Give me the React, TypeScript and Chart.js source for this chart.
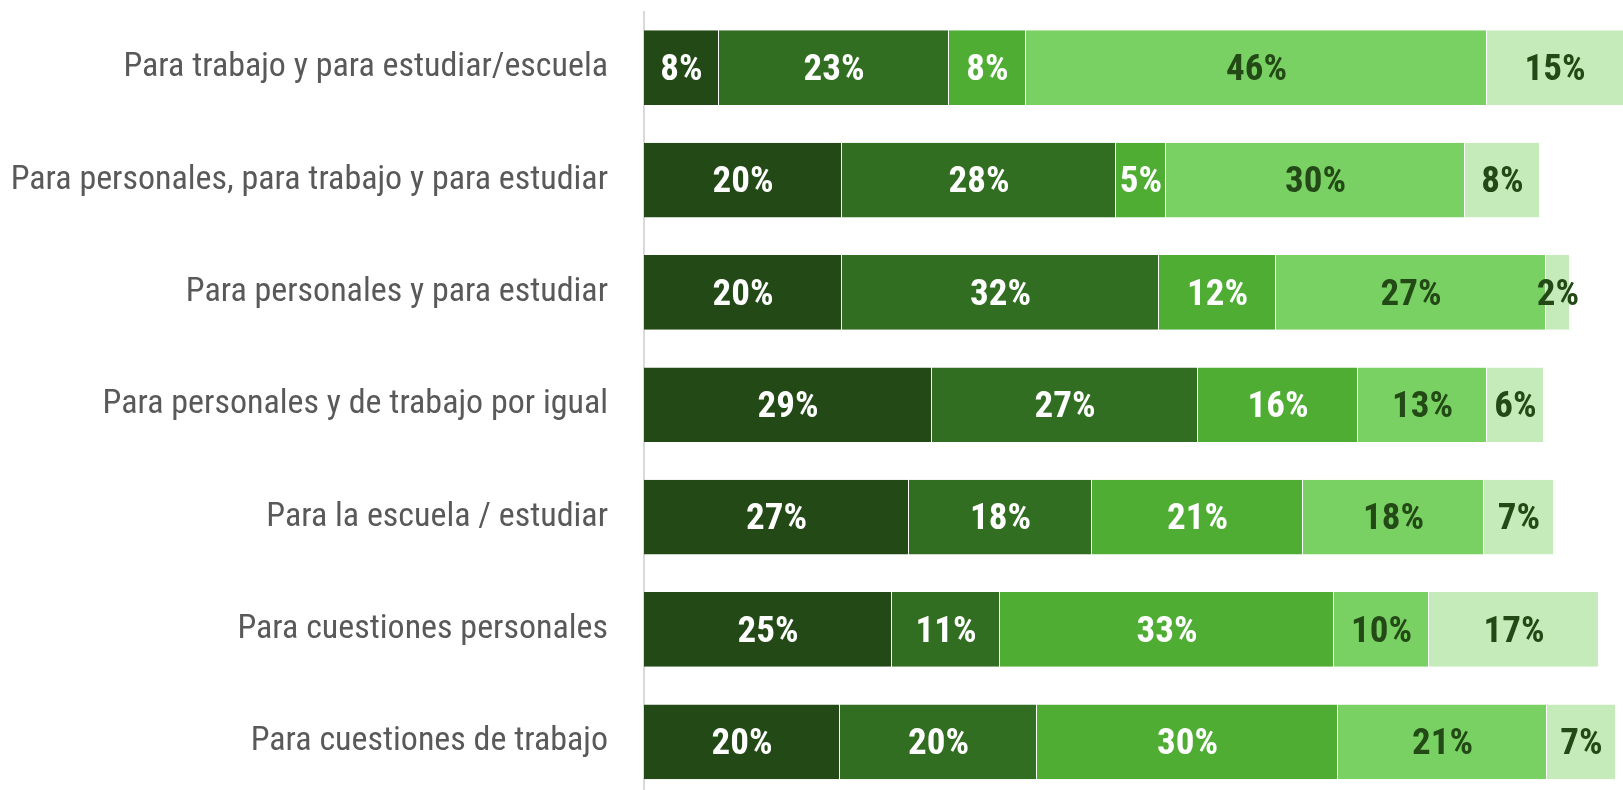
import React, { useEffect, useRef } from "react";
import { Chart, registerables } from "chart.js";

Chart.register(...registerables);

const categories = [
  "Para trabajo y para estudiar/escuela",
  "Para personales, para trabajo y para estudiar",
  "Para personales y para estudiar",
  "Para personales y de trabajo por igual",
  "Para la escuela / estudiar",
  "Para cuestiones personales",
  "Para cuestiones de trabajo",
];

// bar lengths (percent)
const series1 = [7.5, 19.8, 19.8, 28.8, 26.5, 24.8, 19.6];
const series2 = [23.0, 27.4, 31.7, 26.6, 18.3, 10.8, 19.7];
const series3 = [7.7, 5.0, 11.7, 16.0, 21.1, 33.4, 30.1];
const series4 = [46.1, 29.9, 27.0, 12.9, 18.1, 9.5, 20.9];
const series5 = [15.0, 7.5, 2.4, 5.7, 7.0, 17.0, 6.9];

// printed labels
const labels1 = ["8%", "20%", "20%", "29%", "27%", "25%", "20%"];
const labels2 = ["23%", "28%", "32%", "27%", "18%", "11%", "20%"];
const labels3 = ["8%", "5%", "12%", "16%", "21%", "33%", "30%"];
const labels4 = ["46%", "30%", "27%", "13%", "18%", "10%", "21%"];
const labels5 = ["15%", "8%", "2%", "6%", "7%", "17%", "7%"];

const colors = ["#234a16", "#326e21", "#4fad34", "#7ad163", "#c5ebba"];
const labelColors = ["#ffffff", "#ffffff", "#ffffff", "#234a16", "#234a16"];

const FONT = "'Liberation Sans Narrow', 'Roboto Condensed', 'DejaVu Sans Condensed', sans-serif";

const labelPlugin = {
  id: "segLabels",
  afterDatasetsDraw(chart: any) {
    const ctx = chart.ctx;
    const area = chart.chartArea;
    const allLabels = [labels1, labels2, labels3, labels4, labels5];
    ctx.save();
    ctx.font = `bold 37px ${FONT}`;
    ctx.textAlign = "center";
    ctx.textBaseline = "middle";
    chart.data.datasets.forEach((ds: any, di: number) => {
      const meta = chart.getDatasetMeta(di);
      meta.data.forEach((el: any, i: number) => {
        const left = Math.max(Math.min(el.base, el.x), area.left);
        const right = Math.min(Math.max(el.base, el.x), area.right);
        const cx = (left + right) / 2;
        ctx.fillStyle = labelColors[di];
        ctx.fillText(allLabels[di][i], cx, el.y + 3);
      });
    });
    ctx.restore();
  },
};

export default function App() {
  const ref = useRef<HTMLCanvasElement | null>(null);
  useEffect(() => {
    if (!ref.current) return;
    const seriesAll = [series1, series2, series3, series4, series5];
    const chart = new Chart(ref.current, {
      type: "bar",
      data: {
        labels: categories,
        datasets: seriesAll.map((s, i) => ({
          label: "s" + (i + 1),
          data: s,
          backgroundColor: colors[i],
          borderColor: "rgba(255,255,255,0.3)",
          borderWidth: { right: 1, left: 0, top: 0, bottom: 0 },
          borderSkipped: false,
          categoryPercentage: 1,
          barPercentage: 0.665,
        })),
      },
      options: {
        indexAxis: "y",
        responsive: true,
        maintainAspectRatio: false,
        animation: false,
        layout: { autoPadding: false, padding: { top: 11.5, bottom: 0, left: 0, right: 0 } },
        plugins: {
          legend: { display: false },
          tooltip: { enabled: false },
          title: { display: false },
        },
        scales: {
          x: {
            stacked: true,
            display: false,
            min: 0,
            max: 97.9,
          },
          y: {
            stacked: true,
            afterFit: (scale: any) => {
              scale.width = 644;
              scale.paddingTop = 0;
              scale.paddingBottom = 0;
            },
            grid: { display: false, drawTicks: false },
            border: { display: true, color: "#d9d9d9", width: 2 },
            ticks: {
              padding: 36,
              color: "#595959",
              font: { family: FONT, size: 34 },
            },
          },
        },
      },
      plugins: [labelPlugin],
    } as any);
    return () => chart.destroy();
  }, []);
  return (
    <div
      style={{
        position: "absolute",
        left: 0,
        top: 0,
        width: 1623,
        height: 790,
        overflow: "hidden",
        background: "#fff",
      }}
    >
      <div style={{ position: "relative", width: 1623, height: 798 }}>
        <canvas ref={ref} />
      </div>
    </div>
  );
}
